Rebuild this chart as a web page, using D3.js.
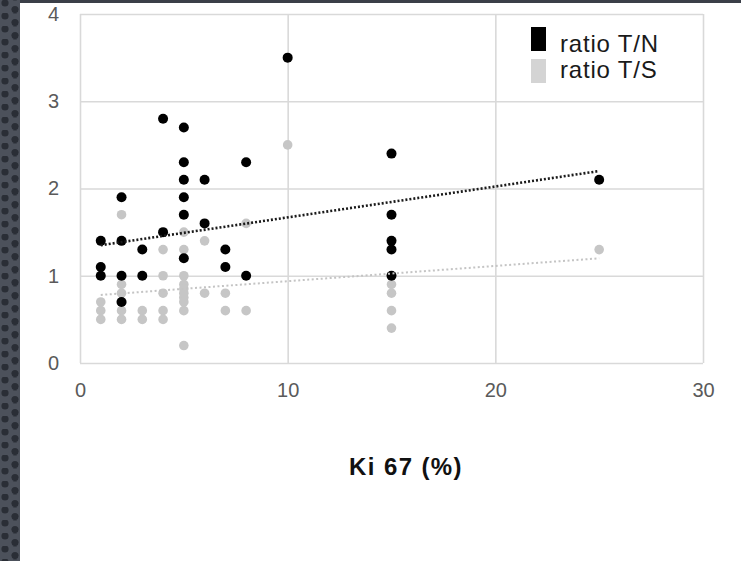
<!DOCTYPE html>
<html>
<head>
<meta charset="utf-8">
<script src="https://cdn.jsdelivr.net/npm/d3@7"></script>
<style>
  html, body { margin: 0; padding: 0; background: #ffffff; }
  svg { display: block; }
  text { font-family: "Liberation Sans", Arial, Helvetica, sans-serif; }
</style>
</head>
<body>
<svg id="chart" width="741" height="561"></svg>
<script>
// ---- data ----
const xTicks = [0, 10, 20, 30];
const yTicks = [0, 1, 2, 3, 4];

// ratio T/N (black)
const tnX = [1, 1, 1, 2, 2, 2, 2, 3, 3, 4, 4, 5, 5, 5, 5, 5, 5, 6, 6, 7, 7, 8, 8, 10, 15, 15, 15, 15, 15, 25];
const tnY = [1.4, 1.1, 1.0, 1.9, 1.4, 1.0, 0.7, 1.3, 1.0, 2.8, 1.5, 2.7, 2.3, 2.1, 1.9, 1.7, 1.2, 2.1, 1.6, 1.3, 1.1, 2.3, 1.0, 3.5, 2.4, 1.7, 1.4, 1.3, 1.0, 2.1];

// ratio T/S (grey)
const tsX = [1, 1, 1, 2, 2, 2, 2, 2, 2, 3, 3, 4, 4, 4, 4, 4, 5, 5, 5, 5, 5, 5, 5, 5, 5, 5, 6, 6, 7, 7, 8, 8, 10, 15, 15, 15, 15, 15, 25];
const tsY = [0.7, 0.6, 0.5, 1.7, 0.9, 0.8, 0.7, 0.6, 0.5, 0.6, 0.5, 1.3, 1.0, 0.8, 0.6, 0.5, 1.5, 1.3, 1.0, 0.9, 0.85, 0.8, 0.75, 0.7, 0.6, 0.2, 1.4, 0.8, 0.8, 0.6, 1.6, 0.6, 2.5, 1.0, 0.9, 0.8, 0.6, 0.4, 1.3];

// linear trend lines (end points)
const trendTNX = [1, 25];
const trendTNY = [1.35, 2.2];
const trendTSX = [1, 25];
const trendTSY = [0.78, 1.2];

const seriesNames = ["ratio T/N", "ratio T/S"];
const axisTitle = "Ki 67 (%)";

// ---- layout ----
const svg = d3.select("#chart");
const W = 741, H = 561;
const plot = { left: 80, right: 703, top: 14, bottom: 363 };

const x = d3.scaleLinear().domain([0, 30]).range([plot.left, plot.right]);
const y = d3.scaleLinear().domain([0, 4]).range([plot.bottom, plot.top]);

// ---- decorative slide background ----
const defs = svg.append("defs");
const pat = defs.append("pattern")
  .attr("id", "dots").attr("patternUnits", "userSpaceOnUse")
  .attr("width", 20).attr("height", 13);
pat.append("rect").attr("width", 20).attr("height", 13).attr("fill", "#4c515b");
pat.append("circle").attr("cx", 5).attr("cy", 3).attr("r", 3.6).attr("fill", "#2a2e36");
pat.append("circle").attr("cx", 15).attr("cy", 9.5).attr("r", 3.6).attr("fill", "#2a2e36");
pat.append("circle").attr("cx", 15).attr("cy", -3).attr("r", 3.6).attr("fill", "#2a2e36");

svg.append("rect").attr("x", 0).attr("y", 0).attr("width", W).attr("height", H).attr("fill", "#ffffff");
svg.append("rect").attr("x", 0).attr("y", 0).attr("width", W).attr("height", 3).attr("fill", "#3b3f48");
svg.append("rect").attr("x", 0).attr("y", 0).attr("width", 20).attr("height", H).attr("fill", "url(#dots)");

// ---- grid ----
const gridColor = "#d9d9d9";
svg.append("g")
  .attr("transform", `translate(${plot.left},0)`)
  .call(d3.axisLeft(y).tickValues(yTicks).tickSize(-(plot.right - plot.left)).tickFormat(""))
  .call(g => g.select(".domain").remove())
  .call(g => g.selectAll("line").attr("stroke", gridColor).attr("stroke-width", 1.6));

svg.append("g")
  .attr("transform", `translate(0,${plot.bottom})`)
  .call(d3.axisBottom(x).tickValues(xTicks).tickSize(-(plot.bottom - plot.top)).tickFormat(""))
  .call(g => g.select(".domain").remove())
  .call(g => g.selectAll("line").attr("stroke", gridColor).attr("stroke-width", 1.6));

// ---- tick labels ----
const tickColor = "#5a5a5a";
svg.append("g")
  .attr("transform", `translate(${plot.left},0)`)
  .call(d3.axisLeft(y).tickValues(yTicks).tickSize(0).tickPadding(21).tickFormat(d3.format("d")))
  .call(g => g.select(".domain").remove())
  .call(g => g.selectAll("text").attr("fill", tickColor).style("font-size", "20px"));

svg.append("g")
  .attr("transform", `translate(0,${plot.bottom})`)
  .call(d3.axisBottom(x).tickValues(xTicks).tickSize(0).tickPadding(20).tickFormat(d3.format("d")))
  .call(g => g.select(".domain").remove())
  .call(g => g.selectAll("text").attr("fill", tickColor).style("font-size", "20px"));

// ---- points ----
const tsData = tsX.map((v, i) => [v, tsY[i]]);
const tnData = tnX.map((v, i) => [v, tnY[i]]);

svg.append("g").selectAll("circle").data(tsData).join("circle")
  .attr("cx", d => x(d[0])).attr("cy", d => y(d[1])).attr("r", 4.8)
  .attr("fill", "#c6c6c6");

svg.append("g").selectAll("circle").data(tnData).join("circle")
  .attr("cx", d => x(d[0])).attr("cy", d => y(d[1])).attr("r", 5)
  .attr("fill", "#000000");

// ---- trend lines ----
const line = d3.line().x(d => x(d[0])).y(d => y(d[1]));
svg.append("path")
  .datum(trendTSX.map((v, i) => [v, trendTSY[i]]))
  .attr("d", line).attr("fill", "none")
  .attr("stroke", "#c4c4c4").attr("stroke-width", 2).attr("stroke-dasharray", "2,2.5");
svg.append("path")
  .datum(trendTNX.map((v, i) => [v, trendTNY[i]]))
  .attr("d", line).attr("fill", "none")
  .attr("stroke", "#1a1a1a").attr("stroke-width", 2.6).attr("stroke-dasharray", "2,2");

// ---- legend ----
const legendColors = ["#000000", "#d4d4d4"];
const lg = svg.append("g");
seriesNames.forEach((name, i) => {
  lg.append("rect").attr("x", 531).attr("y", 27 + i * 32).attr("width", 15).attr("height", 24)
    .attr("fill", legendColors[i]);
  lg.append("text").attr("x", 560).attr("y", 52 + i * 26)
    .attr("fill", "#1a1a1a").style("font-size", "24px").style("letter-spacing", "0.8px")
    .text(name);
});

// ---- axis title ----
svg.append("text")
  .attr("x", 406).attr("y", 475).attr("text-anchor", "middle")
  .attr("fill", "#111111").style("font-size", "24px").style("font-weight", "bold")
  .style("letter-spacing", "1.4px")
  .text(axisTitle);
</script>
</body>
</html>
